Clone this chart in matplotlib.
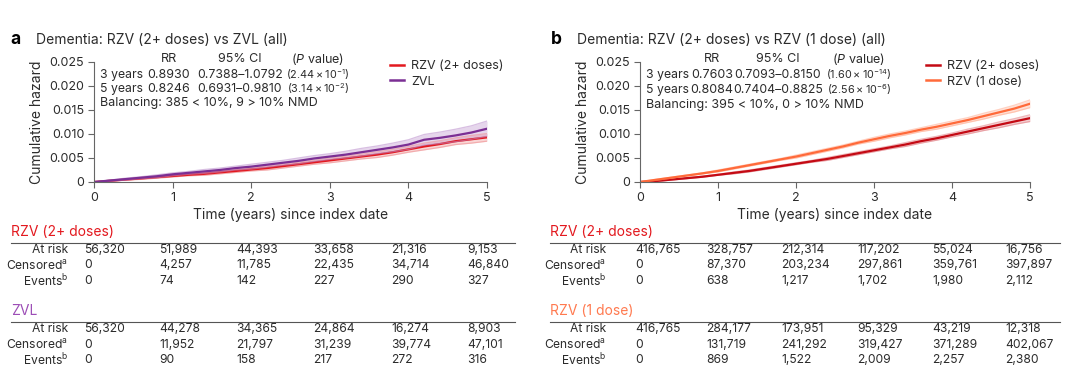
import numpy as np
import matplotlib
matplotlib.use('Agg')
import matplotlib.pyplot as plt

plt.rcParams['font.family'] = ['Inter', 'DejaVu Sans']
plt.rcParams['mathtext.fontset'] = 'custom'
plt.rcParams['mathtext.rm'] = 'Inter'
plt.rcParams['mathtext.it'] = 'Inter:italic'

W, H = 1080, 373

# years since index date (curve read-off grid)
years = [0.0, 0.2, 0.4, 0.6, 0.8, 1.0, 1.2, 1.4, 1.6, 1.8, 2.0, 2.2, 2.4,
         2.6, 2.8, 3.0, 3.2, 3.4, 3.6, 3.8, 4.0, 4.2, 4.4, 4.6, 4.8, 5.0]

# panel a: RZV (2+ doses) vs ZVL
a_rzv = [0, .00025, .0005, .00075, .001, .00125, .0015, .0017, .002, .0023, .0026,
         .0029, .0033, .0037, .0041, .0045, .0049, .0053, .0057, .0062, .0068,
         .0074, .0079, .0085, .0089, .0093]
a_rzv_hw = [0, .0001, .0001, .0002, .0002, .0002, .0002, .0003, .0003, .0003, .0003,
            .0004, .0004, .0004, .0004, .0005, .0005, .0005, .0006, .0006, .0006,
            .0007, .0007, .0007, .0008, .0008]
a_zvl = [0, .0003, .0006, .0009, .0012, .0016, .0019, .0022, .0025, .0029, .0032,
         .0036, .0040, .0044, .0049, .0053, .0057, .0062, .0067, .0072, .0078,
         .0088, .0092, .0097, .0103, .0111]
a_zvl_hw = [0, .0001, .0002, .0002, .0003, .0003, .0003, .0004, .0004, .0004, .0005,
            .0005, .0005, .0006, .0006, .0006, .0007, .0008, .0008, .0009, .0010,
            .0011, .0012, .0013, .0014, .0016]

# panel b: RZV (2+ doses) vs RZV (1 dose)
b_rzv2 = [0, .0002, .0005, .0008, .0011, .0015, .0019, .0023, .0028, .0033, .0038,
          .0043, .0048, .0054, .0060, .0066, .0072, .0078, .0085, .0091, .0098,
          .0105, .0112, .0119, .0126, .0133]
b_rzv2_hw = [0, .0001, .0001, .0001, .0001, .0001, .0002, .0002, .0002, .0002, .0002,
             .0002, .0003, .0003, .0003, .0003, .0003, .0004, .0004, .0004, .0004,
             .0005, .0005, .0006, .0006, .0007]
b_rzv1 = [0, .00045, .0009, .00135, .0018, .0023, .0029, .0035, .0041, .0047, .0053,
          .0060, .0067, .0074, .0082, .0089, .0096, .0102, .0109, .0115, .0122,
          .0129, .0137, .0145, .0153, .0163]
b_rzv1_hw = [0, .0001, .0001, .0001, .0001, .0002, .0002, .0002, .0002, .0002, .0003,
             .0003, .0003, .0003, .0003, .0004, .0004, .0004, .0004, .0005, .0005,
             .0005, .0006, .0006, .0007, .0008]

yticks = [0, 0.005, 0.010, 0.015, 0.020, 0.025]
ytick_labels = ['0', '0.005', '0.010', '0.015', '0.020', '0.025']
xticks = [0, 1, 2, 3, 4, 5]

a_title = 'Dementia: RZV (2+ doses) vs ZVL (all)'
b_title = 'Dementia: RZV (2+ doses) vs RZV (1 dose) (all)'
a_stats = [['3 years', '0.8930', '0.7388\u20131.0792', '(2.44\u2009\u00d7\u200910$^{-1}$)'],
           ['5 years', '0.8246', '0.6931\u20130.9810', '(3.14\u2009\u00d7\u200910$^{-2}$)']]
b_stats = [['3 years', '0.7603', '0.7093\u20130.8150', '(1.60\u2009\u00d7\u200910$^{-14}$)'],
           ['5 years', '0.8084', '0.7404\u20130.8825', '(2.56\u2009\u00d7\u200910$^{-6}$)']]
a_balance = 'Balancing: 385 < 10%, 9 > 10% NMD'
b_balance = 'Balancing: 395 < 10%, 0 > 10% NMD'

row_names = ['At risk', 'Censored$^{\\mathrm{a}}$', 'Events$^{\\mathrm{b}}$']
a_rzv_table = [['56,320', '51,989', '44,393', '33,658', '21,316', '9,153'],
               ['0', '4,257', '11,785', '22,435', '34,714', '46,840'],
               ['0', '74', '142', '227', '290', '327']]
a_zvl_table = [['56,320', '44,278', '34,365', '24,864', '16,274', '8,903'],
               ['0', '11,952', '21,797', '31,239', '39,774', '47,101'],
               ['0', '90', '158', '217', '272', '316']]
b_rzv2_table = [['416,765', '328,757', '212,314', '117,202', '55,024', '16,756'],
                ['0', '87,370', '203,234', '297,861', '359,761', '397,897'],
                ['0', '638', '1,217', '1,702', '1,980', '2,112']]
b_rzv1_table = [['416,765', '284,177', '173,951', '95,329', '43,219', '12,318'],
                ['0', '131,719', '241,292', '319,427', '371,289', '402,067'],
                ['0', '869', '1,522', '2,009', '2,257', '2,380']]

RED = '#e3191f'
PURPLE = '#7b2f94'
DARKRED = '#c40a14'
ORANGE = '#ff6a3a'
TXT = '#2b2b2b'
GREY = '#666666'


def fx(x):
    return x / W


def fy(y):
    return 1 - y / H


def draw_curve(ax, y, hw, color, band):
    y = np.array(y)
    hw = np.array(hw)
    lo, hi = y - hw, y + hw
    ax.fill_between(years, lo, hi, color=band, alpha=0.35, lw=0)
    ax.plot(years, lo, color=band, alpha=0.55, lw=0.9)
    ax.plot(years, hi, color=band, alpha=0.55, lw=0.9)
    ax.plot(years, y, color=color, lw=1.6)


def style_axes(ax):
    ax.set_xlim(0, 5)
    ax.set_ylim(0, 0.025)
    ax.set_xticks(xticks)
    ax.set_yticks(yticks)
    ax.set_yticklabels(ytick_labels)
    for s in ['top', 'right']:
        ax.spines[s].set_visible(False)
    for s in ['left', 'bottom']:
        ax.spines[s].set_color(GREY)
        ax.spines[s].set_linewidth(0.8)
    ax.tick_params(colors=GREY, labelcolor=TXT, labelsize=9, length=4, width=0.8, pad=3)
    ax.set_ylabel('Cumulative hazard', fontsize=10, color=TXT, labelpad=4)
    ax.set_xlabel('Time (years) since index date', fontsize=10, color=TXT, labelpad=3)


def stats_block(x0, cols, head_y, rows_y, bal_y, stats, balance):
    fs = 9
    fig.text(fx(cols[0]), fy(head_y), 'RR', ha='center', va='center', fontsize=fs, color=TXT)
    fig.text(fx(cols[1]), fy(head_y), '95% CI', ha='center', va='center', fontsize=fs, color=TXT)
    fig.text(fx(cols[2]), fy(head_y), '($\\it{P}$ value)', ha='center', va='center', fontsize=fs, color=TXT)
    for row, yy in zip(stats, rows_y):
        fig.text(fx(x0), fy(yy), row[0], ha='left', va='center', fontsize=8.8, color=TXT)
        fig.text(fx(cols[0]), fy(yy), row[1], ha='center', va='center', fontsize=fs, color=TXT)
        fig.text(fx(cols[1]), fy(yy), row[2], ha='center', va='center', fontsize=8.8, color=TXT)
        fig.text(fx(cols[2]), fy(yy), row[3], ha='center', va='center', fontsize=7.8, color=TXT)
    fig.text(fx(x0), fy(bal_y), balance, ha='left', va='center', fontsize=fs, color=TXT)


def risk_table(x_head, x_label, x_cols, x_line_end, head_y, name, color, table):
    fig.text(fx(x_head), fy(head_y), name, ha='left', va='center', fontsize=10, color=color)
    line_y = head_y + 11
    fig.add_artist(plt.Line2D([fx(x_head), fx(x_line_end)], [fy(line_y), fy(line_y)],
                              color='#555555', lw=0.8))
    for i, (label, vals) in enumerate(zip(row_names, table)):
        yy = line_y + 7 + i * 15.5
        fig.text(fx(x_label), fy(yy), label, ha='right', va='center', fontsize=8.7, color=TXT)
        for x, v in zip(x_cols, vals):
            fig.text(fx(x), fy(yy), v, ha='left', va='center', fontsize=8.7, color=TXT)


fig = plt.figure(figsize=(W / 100, H / 100), dpi=100)
fig.patch.set_facecolor('white')

ax_a = fig.add_axes([fx(94), fy(182), (487 - 94) / W, 120 / H])
ax_b = fig.add_axes([fx(640), fy(182), (1030 - 640) / W, 120 / H])

draw_curve(ax_a, a_rzv, a_rzv_hw, RED, '#ee8a8c')
draw_curve(ax_a, a_zvl, a_zvl_hw, PURPLE, '#b98bcb')
draw_curve(ax_b, b_rzv2, b_rzv2_hw, DARKRED, '#e07a80')
draw_curve(ax_b, b_rzv1, b_rzv1_hw, ORANGE, '#ffab8f')
style_axes(ax_a)
style_axes(ax_b)

# legends
for ax, labels, colors, x_anchor in [(ax_a, ['RZV (2+ doses)', 'ZVL'], [RED, PURPLE], 0.725),
                                     (ax_b, ['RZV (2+ doses)', 'RZV (1 dose)'], [DARKRED, ORANGE], 0.705)]:
    handles = [plt.Line2D([], [], color=c, lw=1.8) for c in colors]
    ax.legend(handles, labels, loc='upper left', bbox_to_anchor=(x_anchor, 1.11), frameon=False,
              fontsize=9, handlelength=1.1, handletextpad=0.6, labelspacing=0.3,
              labelcolor=TXT)

# panel titles
fig.text(fx(10), fy(40), 'a', fontsize=12.5, fontweight='bold', va='center', color='black')
fig.text(fx(36), fy(40), a_title, fontsize=10, va='center', color=TXT)
fig.text(fx(551), fy(40), 'b', fontsize=12.5, fontweight='bold', va='center', color='black')
fig.text(fx(577), fy(40), b_title, fontsize=10, va='center', color=TXT)

stats_block(100, [169, 240, 318], 59, [75, 89], 103, a_stats, a_balance)
stats_block(646, [712, 778, 859], 59, [75, 90], 105, b_stats, b_balance)

# at-risk tables
a_cols = [84, 159, 236, 313, 391, 467]
b_cols = [635, 706, 781, 857, 932, 1005]
risk_table(11, 68, a_cols, 515, 232, 'RZV (2+ doses)', RED, a_rzv_table)
risk_table(11, 68, a_cols, 515, 311, 'ZVL', '#9c4db6', a_zvl_table)
risk_table(550, 606, b_cols, 1060, 232, 'RZV (2+ doses)', RED, b_rzv2_table)
risk_table(550, 606, b_cols, 1060, 311, 'RZV (1 dose)', '#ff7a50', b_rzv1_table)

fig.savefig('out.png', dpi=100, facecolor='white')
